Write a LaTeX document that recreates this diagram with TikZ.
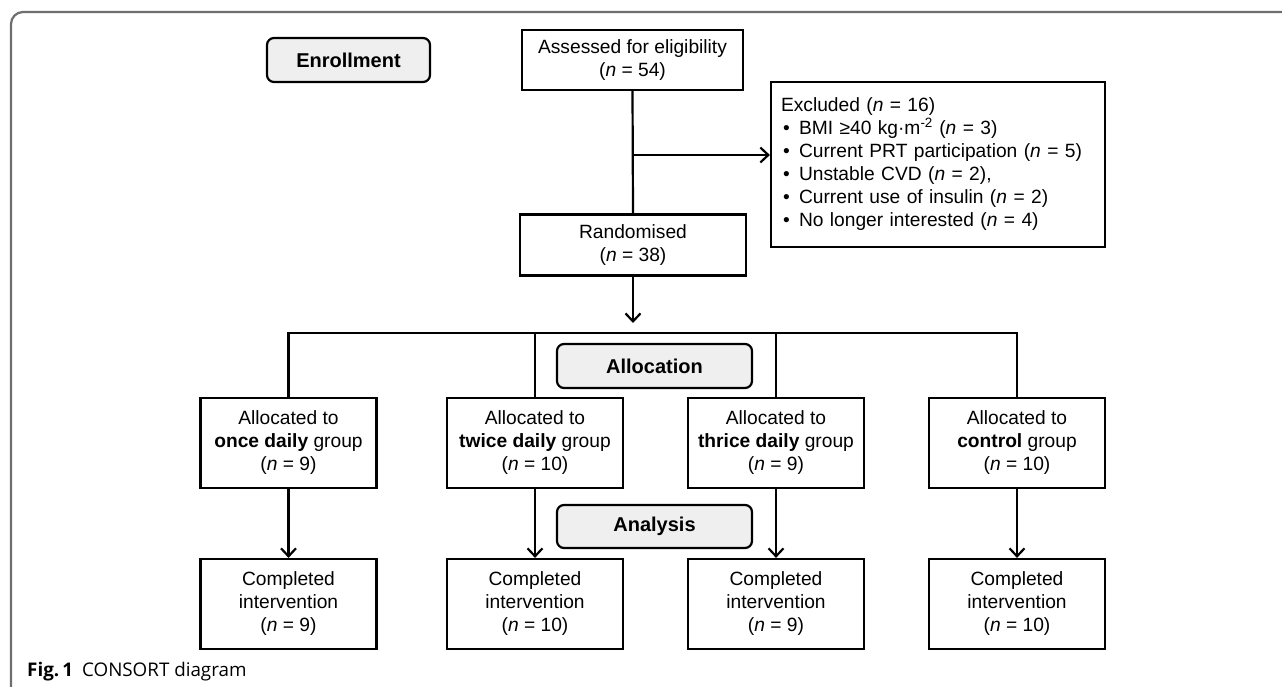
\documentclass[tikz,border=0pt]{standalone}
\usepackage{fontspec}
\setmainfont{Liberation Sans}
\newfontfamily\capfont{Open Sans}
\usetikzlibrary{arrows.meta}
\definecolor{hdrfill}{HTML}{EFEFEF}
\definecolor{framegray}{HTML}{6E6E6E}
\begin{document}
\begin{tikzpicture}[x=1pt,y=-1pt,
  box/.style={draw=black, line width=2.2pt, align=center, inner sep=0pt,
    font=\fontsize{19.2}{23}\selectfont},
  hdr/.style={draw=black, line width=2.2pt, fill=hdrfill, rounded corners=7pt,
    minimum width=195pt, minimum height=44pt, inner sep=0pt,
    font=\fontsize{20}{24}\selectfont\bfseries},
  conn/.style={line width=2.2pt},
  arr/.style={line width=2.2pt, -{Straight Barb[length=8pt,width=15pt,line width=2.2pt]}},
  grp/.style={box, minimum width=176pt, minimum height=90pt}
]
\useasboundingbox (0,0) rectangle (1282,687);
\draw[framegray, line width=2.2pt, rounded corners=12pt] (11,700) -- (11,12) -- (1300,12);

% headers
\node[hdr, minimum width=163pt] (enr) at (348.5,60) {Enrollment};
\node[hdr] (allo) at (654.5,366) {Allocation};
\node[hdr, minimum height=43pt] (ana) at (654.5,526.5) {Analysis};

% main boxes
\node[box, minimum width=221pt, minimum height=60pt] (assess) at (632.5,60)
  {Assessed for eligibility\\(\textit{n} = 54)};
\node[box, minimum width=226pt, minimum height=61pt] (rand) at (633,245)
  {Randomised\\(\textit{n} = 38)};
\node[box, minimum width=334pt, minimum height=165pt, align=left,
      text width=314pt] (excl) at (938,164.5)
  {Excluded (\textit{n} = 16)\\
   \hspace*{2pt}\makebox[16pt][l]{•}BMI ≥40 kg·m\textsuperscript{-2} (\textit{n} = 3)\\
   \hspace*{2pt}\makebox[16pt][l]{•}Current PRT participation (\textit{n} = 5)\\
   \hspace*{2pt}\makebox[16pt][l]{•}Unstable CVD (\textit{n} = 2),\\
   \hspace*{2pt}\makebox[16pt][l]{•}Current use of insulin (\textit{n} = 2)\\
   \hspace*{2pt}\makebox[16pt][l]{•}No longer interested (\textit{n} = 4)};

% allocated groups
\node[grp] (a1) at (288.5,443) {Allocated to\\\textbf{once daily} group\\(\textit{n} = 9)};
\node[grp] (a2) at (535,443) {Allocated to\\\textbf{twice daily} group\\(\textit{n} = 10)};
\node[grp] (a3) at (776,443) {Allocated to\\\textbf{thrice daily} group\\(\textit{n} = 9)};
\node[grp] (a4) at (1017,443) {Allocated to\\\textbf{control} group\\(\textit{n} = 10)};

% completed
\node[grp] (c1) at (288.5,604) {Completed\\intervention\\(\textit{n} = 9)};
\node[grp] (c2) at (535,604) {Completed\\intervention\\(\textit{n} = 10)};
\node[grp] (c3) at (776,604) {Completed\\intervention\\(\textit{n} = 9)};
\node[grp] (c4) at (1017,604) {Completed\\intervention\\(\textit{n} = 10)};

% connectors
\coordinate (j1) at (633,155);
\coordinate (br) at (633,333);
\coordinate (rt) at (633,323);
\draw[conn] (assess.south) -- (rand.north);
\draw[arr] (j1) -- (j1 -| excl.west);
\draw[arr] (rand.south) -- (rt);
\draw[conn] (a1.north) -- (a1.north |- br) -- (a4.north |- br) -- (a4.north);
\draw[conn] (a2.north) -- (a2.north |- br);
\draw[conn] (a3.north) -- (a3.north |- br);
\foreach \i in {1,2,3,4}{
  \draw[arr] (a\i.south) -- (c\i.north);
}

% caption
\node[anchor=west, inner sep=0pt, font=\capfont\fontsize{18.8}{22}\selectfont] (cap) at (27,672)
  {\textbf{Fig.\,1}\hspace{9pt}CONSORT diagram};
\end{tikzpicture}
\end{document}
